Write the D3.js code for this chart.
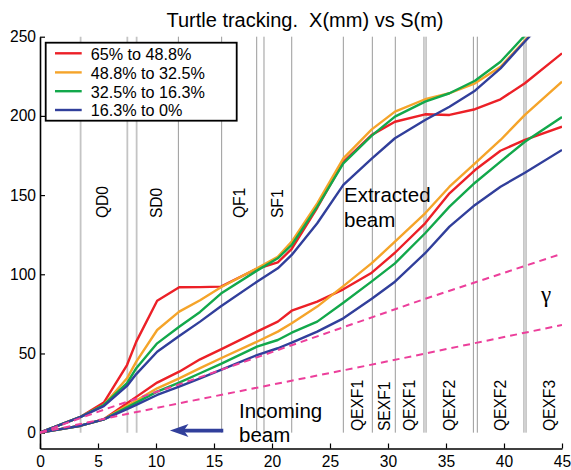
<!DOCTYPE html>
<html>
<head>
<meta charset="utf-8">
<script src="https://cdn.jsdelivr.net/npm/d3@7"></script>
<style>
  html, body { margin: 0; padding: 0; background: #fff; }
  svg { display: block; font-family: "Liberation Sans", Arial, sans-serif; }
</style>
</head>
<body>
<svg id="chart" width="571" height="470"></svg>
<script>
// ---------------- data ----------------
const titleText = "Turtle tracking.\u00a0\u00a0X(mm) vs S(m)";
const sPos = [0, 3.5, 5.5, 7.5, 8.3, 10.1, 12, 13.8, 15.6, 18.7, 20.5, 21.7, 23.9, 26.15, 28.6, 30.6, 33.2, 35.3, 37.5, 39.7, 41.8, 45];

const upRed    = [0, 10, 19, 42.7, 57.5, 83.3, 91.8, 91.9, 92.2, 103.5, 107.5, 116, 142, 171, 188, 196.3, 201, 200.6, 204.2, 210.5, 220.6, 239.5];
const upOrange = [0, 10, 17.5, 34.3, 44.8, 64.8, 76.4, 83.6, 91.8, 103.8, 111.1, 120.6, 144.8, 173.2, 191.5, 202.7, 210.5, 214.3, 220.6, 231, 247.6, 273];
const upGreen  = [0, 10, 17.5, 31.2, 40.7, 56.4, 66.9, 76.2, 87.8, 102.3, 110.1, 118.5, 142.7, 170, 187.5, 199.5, 209, 214.3, 222.2, 234.2, 250.8, 277];
const upBlue   = [0, 10, 16.8, 29.5, 37, 51.1, 61, 70.1, 79.8, 95.3, 103.8, 112.2, 132.2, 156.4, 173, 185.9, 197.4, 205.8, 215.9, 230, 247, 272];

const loRed    = [0, 4.4, 8.4, 18.5, 22.6, 31.6, 38.5, 46.3, 52.6, 63.8, 70.1, 77, 82.7, 90.5, 101, 113.6, 132.2, 151.1, 165.8, 178, 184.8, 193.2];
const loOrange = [0, 4.4, 8.4, 16.9, 20.2, 28, 34.3, 40.7, 47, 57.4, 63.8, 69.1, 79.6, 92.5, 107, 120.6, 138.5, 155.3, 170, 184.8, 200.6, 221.6];
const loGreen  = [0, 4.4, 8.4, 16, 19, 25.9, 31.6, 37.5, 43.4, 54.3, 58.5, 63.1, 70.1, 82, 95.5, 106.9, 125.9, 142.7, 157.8, 171.1, 183.7, 199.3];
const loBlue   = [0, 4.4, 8.4, 14.8, 17.5, 23.8, 29, 34.3, 39.6, 49, 53.3, 56.8, 63.8, 72.2, 84.5, 95.3, 113.3, 130.1, 143.8, 155.3, 164.1, 178.5];

const seriesNames = ["65% to 48.8%", "48.8% to 32.5%", "32.5% to 16.3%", "16.3% to 0%"];
const seriesColors = ["#ec2027", "#f5a42a", "#12a84b", "#313f9b"];

// gamma envelope lines (dashed)
const gammaS1 = [0, 5.5, 13, 22.4, 33.2, 45];
const gammaX1 = [0, 14.5, 33, 57, 84.5, 113];
const gammaS2 = [0, 7.5, 13, 29.3, 45];
const gammaX2 = [0, 11.8, 20, 44, 68];

// element boundaries
const elemLight = [3.5, 7.53, 8.33];
const elemDark = [11.93, 15.66, 18.68, 19.31, 21.7, 26.15, 28.65, 30.63, 33.1, 33.28, 37.36, 37.7, 41.72, 41.9];
const topLabels = ["QD0", "SD0", "QF1", "SF1"];
const topLabelS = [5.43, 10.04, 17.16, 20.46];
const botLabels = ["QEXF1", "SEXF1", "QEXF1", "QEXF2", "QEXF2", "QEXF3"];
const botLabelS = [27.37, 29.66, 31.85, 35.34, 39.74, 43.92];

const xTicks = [0, 5, 10, 15, 20, 25, 30, 35, 40, 45];
const yTicks = [0, 50, 100, 150, 200, 250];

// ---------------- drawing ----------------
const svg = d3.select("#chart");
const x = d3.scaleLinear().domain([0, 45]).range([40, 562]);
const y = d3.scaleLinear().domain([-10, 250]).range([448.5, 36.7]);

svg.append("defs").append("clipPath").attr("id", "plotclip")
  .append("rect").attr("x", x(0)).attr("y", y(250)).attr("width", x(45) - x(0)).attr("height", y(-10) - y(250));

// element lines
const vg = svg.append("g");
vg.selectAll("line.l").data(elemLight).join("line")
  .attr("x1", d => x(d)).attr("x2", d => x(d)).attr("y1", y(0)).attr("y2", y(250))
  .attr("stroke", "#c4c4c4").attr("stroke-width", 1.8);
vg.selectAll("line.d").data(elemDark).join("line")
  .attr("x1", d => x(d)).attr("x2", d => x(d)).attr("y1", y(0)).attr("y2", y(250))
  .attr("stroke", "#9a9a9a").attr("stroke-width", 1);

// element labels
svg.append("g").selectAll("text").data(topLabels).join("text")
  .attr("transform", (d, i) => `translate(${x(topLabelS[i])},${y(135.5)}) rotate(-90)`)
  .attr("dy", "0.35em").attr("font-size", 15.6).attr("fill", "#000").text(d => d);
svg.append("g").selectAll("text").data(botLabels).join("text")
  .attr("transform", (d, i) => `translate(${x(botLabelS[i])},${y(1)}) rotate(-90)`)
  .attr("dy", "0.35em").attr("font-size", 15.6).attr("fill", "#000").text(d => d);

// axes
const xAxis = svg.append("g").attr("transform", `translate(0,${y(-10)})`)
  .call(d3.axisBottom(x).tickValues(xTicks).tickSizeInner(-5).tickSizeOuter(0).tickPadding(7));
const yAxis = svg.append("g").attr("transform", `translate(${x(0)},0)`)
  .call(d3.axisLeft(y).tickValues(yTicks).tickSizeInner(-5).tickSizeOuter(0).tickPadding(4));
[xAxis, yAxis].forEach(a => {
  a.selectAll("text").attr("font-size", 15.6).attr("fill", "#000")
    .attr("font-family", "'Liberation Sans', Arial, sans-serif");
  a.select(".domain").attr("stroke", "#000").attr("stroke-width", 1.6);
  a.selectAll(".tick line").attr("stroke", "#000").attr("stroke-width", 1.2);
});

// curves
const line = d3.line().x(d => x(d[0])).y(d => y(d[1]));
const plot = svg.append("g").attr("clip-path", "url(#plotclip)");
const groups = [[loRed, loOrange, loGreen, loBlue], [upRed, upOrange, upGreen, upBlue]];
groups.forEach(g => {
  g.forEach((vals, i) => {
    plot.append("path").datum(sPos.map((s, k) => [s, vals[k]]))
      .attr("d", line).attr("fill", "none")
      .attr("stroke", seriesColors[i]).attr("stroke-width", 2.4)
      .attr("stroke-linejoin", "round");
  });
});

// dashed gamma lines
[[gammaS1, gammaX1], [gammaS2, gammaX2]].forEach(([ss, xs]) => {
  plot.append("path").datum(ss.map((s, k) => [s, xs[k]]))
    .attr("d", line).attr("fill", "none").attr("stroke", "#ec3f9b")
    .attr("stroke-width", 2).attr("stroke-dasharray", "7,5");
});

// annotations
const ann = svg.append("g").attr("font-size", 20.5).attr("fill", "#000");
ann.append("text").attr("x", 344).attr("y", 201.7).text("Extracted");
ann.append("text").attr("x", 344).attr("y", 226.7).text("beam");
ann.append("text").attr("x", 239).attr("y", 418.3).text("Incoming");
ann.append("text").attr("x", 239).attr("y", 441.7).text("beam");
svg.append("text").attr("x", 541).attr("y", 302).attr("font-size", 23)
  .attr("font-family", "'Liberation Serif', 'Times New Roman', serif").text("\u03b3");

// arrow
const ay = y(1.3);
svg.append("line").attr("x1", x(15.8)).attr("x2", x(12.3)).attr("y1", ay).attr("y2", ay)
  .attr("stroke", "#313f9b").attr("stroke-width", 3.6);
svg.append("path")
  .attr("d", `M${x(11.2)},${ay} L${x(12.8)},${ay - 6.5} L${x(12.4)},${ay} L${x(12.8)},${ay + 6.5} Z`)
  .attr("fill", "#313f9b");

// title
svg.append("text").attr("x", 305).attr("y", 27.3).attr("text-anchor", "middle")
  .attr("font-size", 20).attr("fill", "#000").style("white-space", "pre").text(titleText);

// legend
const lg = svg.append("g");
lg.append("rect").attr("x", 45.7).attr("y", 42.7).attr("width", 191).attr("height", 78)
  .attr("fill", "#fff").attr("stroke", "#000").attr("stroke-width", 1.8);
const rowY = [53.3, 72.4, 91.2, 110];
seriesNames.forEach((n, i) => {
  lg.append("line").attr("x1", 55).attr("x2", 81.7).attr("y1", rowY[i]).attr("y2", rowY[i])
    .attr("stroke", seriesColors[i]).attr("stroke-width", 2.4);
  lg.append("text").attr("x", 90.7).attr("y", rowY[i] + 6.3).attr("font-size", 16.2)
    .attr("fill", "#000").text(n);
});
</script>
</body>
</html>
